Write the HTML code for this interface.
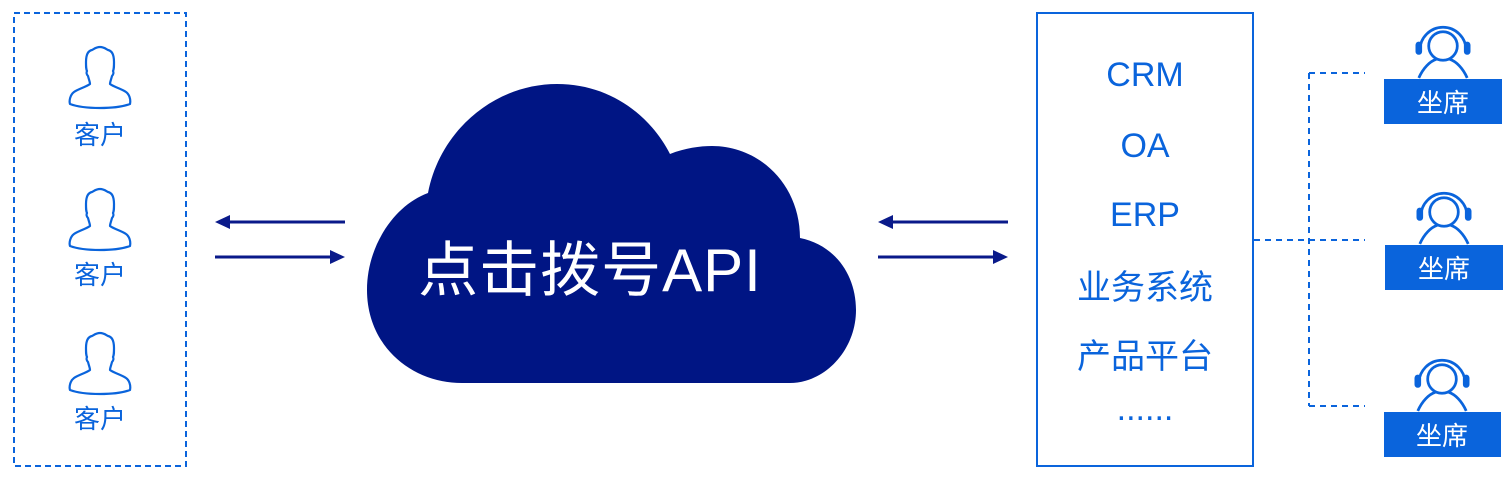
<!DOCTYPE html>
<html><head><meta charset="utf-8"><style>
html,body{margin:0;padding:0;background:#fff;}
svg{display:block}
text{font-family:"Liberation Sans","Noto Sans CJK SC",sans-serif;}
</style></head><body>
<svg width="1512" height="478" viewBox="0 0 1512 478" xmlns="http://www.w3.org/2000/svg">
<defs>
<g id="person" fill="none" stroke="#0a64dc" stroke-width="2.2" stroke-linejoin="round">
<path d="M0,-30 C-4,-30 -6,-28 -8,-27 C-13,-26 -14,-20 -14,-15 C-14,-10 -14,-8 -13,-6 C-14,-4 -13,-2 -12,-1 C-11,3 -10,5 -10,7 C-14,10 -22,12 -26,15 C-30,18 -31,24 -30,27 C-22,30 -12,31 0,31 C12,31 22,30 30,27 C31,22 29,17 26,15 C22,12 14,10 10,7 C10,5 11,3 12,-1 C13,-2 14,-4 13,-6 C14,-8 14,-10 14,-15 C14,-20 13,-26 8,-27 C6,-28 4,-30 0,-30 Z"/>
</g>
<g id="agent0">
<circle cx="0" cy="0" r="13" fill="none" stroke="#0a64dc" stroke-width="2.5"/>
<path d="M-21,4 A21,21 0 0 1 21,4" fill="none" stroke="#0a64dc" stroke-width="2.5"/>
<rect x="-25" y="-4" width="6" height="12" rx="3" fill="#0a64dc"/>
<rect x="19" y="-4" width="6" height="12" rx="3" fill="#0a64dc"/>
<path d="M-22,29 C-18,20 -12,14 -6,12 M6,12 C12,14 18,20 22,29" fill="none" stroke="#0a64dc" stroke-width="2.5"/>
</g>
<g id="agent"><use href="#agent0" transform="scale(1.1)"/></g>
</defs>

<rect x="14" y="13" width="172" height="453" fill="none" stroke="#0a64dc" stroke-width="2" stroke-dasharray="6,4"/>
<use href="#person" x="100" y="77"/>
<use href="#person" x="100" y="219"/>
<use href="#person" x="100" y="363"/>
<text x="100" y="144" font-size="26" fill="#0a64dc" text-anchor="middle">客户</text>
<text x="100" y="284" font-size="26" fill="#0a64dc" text-anchor="middle">客户</text>
<text x="100" y="428" font-size="26" fill="#0a64dc" text-anchor="middle">客户</text>

<g stroke="#0a1a8a" stroke-width="3" fill="#0a1a8a">
<line x1="228" y1="222" x2="345" y2="222"/>
<path d="M215,222 L230,215 L230,229 Z" stroke="none"/>
<line x1="215" y1="257" x2="332" y2="257"/>
<path d="M345,257 L330,250 L330,264 Z" stroke="none"/>
<line x1="891" y1="222" x2="1008" y2="222"/>
<path d="M878,222 L893,215 L893,229 Z" stroke="none"/>
<line x1="878" y1="257" x2="995" y2="257"/>
<path d="M1008,257 L993,250 L993,264 Z" stroke="none"/>
</g>

<path d="M462,383 C410,383 367,345 367,290 C367,245 395,205 428,193 C440,130 495,84 557,84 C610,84 650,115 670,154 C685,148 700,146 712,146 C760,146 800,185 800,238 C835,245 856,275 856,310 C856,350 825,383 790,383 Z" fill="#001584"/>
<text x="590" y="291" font-size="60" fill="#fff" text-anchor="middle" letter-spacing="1">点击拨号API</text>

<rect x="1037" y="13" width="216" height="453" fill="none" stroke="#0a64dc" stroke-width="2"/>
<g font-size="34" fill="#0a64dc" text-anchor="middle">
<text x="1145" y="86">CRM</text>
<text x="1145" y="157">OA</text>
<text x="1145" y="226">ERP</text>
<text x="1145" y="299">业务系统</text>
<text x="1145" y="368">产品平台</text>
<text x="1145" y="420">......</text>
</g>

<g stroke="#0a64dc" stroke-width="2" stroke-dasharray="6,5" fill="none">
<line x1="1254" y1="240" x2="1365" y2="240"/>
<line x1="1309" y1="73" x2="1309" y2="406"/>
<line x1="1309" y1="73" x2="1365" y2="73"/>
<line x1="1309" y1="406" x2="1365" y2="406"/>
</g>

<use href="#agent" x="1443" y="46"/>
<rect x="1384" y="79" width="118" height="45" fill="#0a64dc"/>
<text x="1443" y="112" font-size="26" fill="#fff" text-anchor="middle">坐席</text>
<use href="#agent" x="1444" y="212"/>
<rect x="1385" y="245" width="118" height="45" fill="#0a64dc"/>
<text x="1444" y="278" font-size="26" fill="#fff" text-anchor="middle">坐席</text>
<use href="#agent" x="1442" y="379"/>
<rect x="1384" y="412" width="117" height="45" fill="#0a64dc"/>
<text x="1442" y="445" font-size="26" fill="#fff" text-anchor="middle">坐席</text>
</svg>
</body></html>
